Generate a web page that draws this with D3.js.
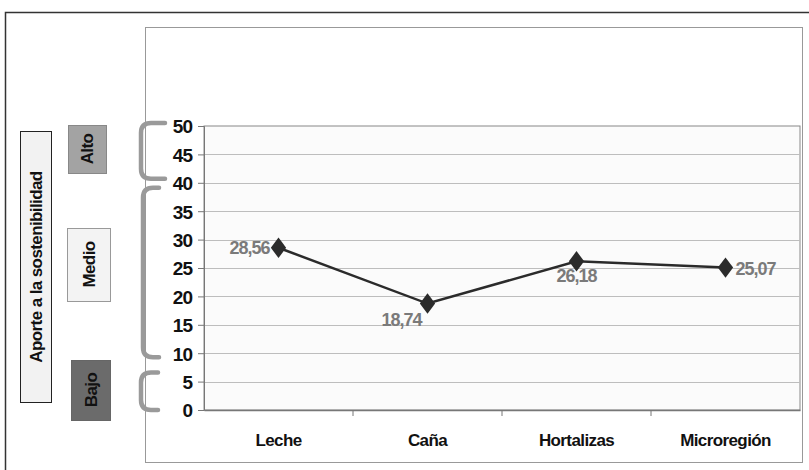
<!DOCTYPE html>
<html>
<head>
<meta charset="utf-8">
<script src="https://cdn.jsdelivr.net/npm/d3@7"></script>
<style>
body { margin: 0; background: #fff; }
text { font-family: "Liberation Sans Narrow", "Arial Narrow", "Liberation Sans", sans-serif; font-weight: bold; letter-spacing: -0.6px; }
</style>
</head>
<body>
<script>
// data
var categories = ["Leche", "Caña", "Hortalizas", "Microregión"];
var values = [28.56, 18.74, 26.18, 25.07];
var valueLabels = ["28,56", "18,74", "26,18", "25,07"];
var yTicks = [0, 5, 10, 15, 20, 25, 30, 35, 40, 45, 50];
var levels = ["Alto", "Medio", "Bajo"];
var levelRanges = [[40, 50], [10, 40], [0, 5]];

var width = 809, height = 470;
var svg = d3.select("body").append("svg")
    .attr("width", width)
    .attr("height", height);

// outer frame
svg.append("path")
    .attr("d", "M5.5,470 V12.5 H809")
    .attr("fill", "none")
    .attr("stroke", "#333")
    .attr("stroke-width", 1.5);

// chart frame
svg.append("rect")
    .attr("x", 145.5).attr("y", 27.5)
    .attr("width", 657).attr("height", 435)
    .attr("fill", "#fff")
    .attr("stroke", "#999");

var pLeft = 204, pRight = 800, pTop = 126, pBottom = 410;

var x = d3.scaleBand().domain(categories).range([pLeft, pRight]);
var y = d3.scaleLinear().domain([0, 50]).range([pBottom, pTop]);

// plot area
svg.append("rect")
    .attr("x", pLeft).attr("y", pTop)
    .attr("width", pRight - pLeft).attr("height", pBottom - pTop)
    .attr("fill", "#fbfbfb")
    .attr("stroke", "#888");

svg.append("g").selectAll("line")
    .data(yTicks.filter(function(d){ return d > 0 && d < 50; }))
    .enter().append("line")
    .attr("x1", pLeft).attr("x2", pRight)
    .attr("y1", function(d){ return Math.round(y(d)) + 0.5; })
    .attr("y2", function(d){ return Math.round(y(d)) + 0.5; })
    .attr("stroke", "#bdbdbd")
    .attr("stroke-width", 1.2);

var yAxis = d3.axisLeft(y).tickValues(yTicks).tickSize(6).tickPadding(6);
var yg = svg.append("g")
    .attr("transform", "translate(" + pLeft + ",0)")
    .call(yAxis);
yg.select(".domain").attr("stroke", "#777");
yg.selectAll(".tick line").attr("stroke", "#777");
yg.selectAll(".tick text")
    .attr("fill", "#111")
    .style("font-size", "19px")
    .style("letter-spacing", "-1px")
    .attr("dy", "0.36em");

var xAxis = d3.axisBottom(x).tickSize(0).tickPadding(24);
var xg = svg.append("g")
    .attr("transform", "translate(0," + pBottom + ")")
    .call(xAxis);
xg.select(".domain").attr("stroke", "#777").attr("stroke-width", 1.5);
xg.selectAll(".tick text")
    .attr("fill", "#111")
    .style("font-size", "17px");
// category boundary ticks
xg.selectAll(".bound")
    .data(categories.slice(1))
    .enter().append("line")
    .attr("x1", function(d){ return x(d); })
    .attr("x2", function(d){ return x(d); })
    .attr("y1", 0).attr("y2", 6)
    .attr("stroke", "#777");

// line
var line = d3.line()
    .x(function(d, i){ return x(categories[i]) + x.bandwidth() / 2; })
    .y(function(d){ return y(d); });

svg.append("path")
    .datum(values)
    .attr("d", line)
    .attr("fill", "none")
    .attr("stroke", "#2b2b2b")
    .attr("stroke-width", 2.5);

svg.append("g").selectAll("path")
    .data(values)
    .enter().append("path")
    .attr("d", d3.symbol().type(d3.symbolDiamond).size(120))
    .attr("transform", function(d, i){
        return "translate(" + (x(categories[i]) + x.bandwidth() / 2) + "," + y(d) + ") scale(1.3,1)";
    })
    .attr("fill", "#2b2b2b");

// value labels
var labelOffsets = [[-9, 6, "end"], [-6, 22, "end"], [0, 21, "middle"], [10, 7, "start"]];
svg.append("g").selectAll("text")
    .data(values)
    .enter().append("text")
    .attr("x", function(d, i){ return x(categories[i]) + x.bandwidth() / 2 + labelOffsets[i][0]; })
    .attr("y", function(d, i){ return y(d) + labelOffsets[i][1]; })
    .attr("text-anchor", function(d, i){ return labelOffsets[i][2]; })
    .attr("fill", "#7a7a7a")
    .style("font-size", "18px")
    .style("letter-spacing", "-1px")
    .text(function(d, i){ return valueLabels[i]; });

// brackets (insets in px from the range ends)
var bracketStyle = [
    {x: 141, hook: 24, top: -3, bot: 4},
    {x: 143, hook: 16, top: 5, bot: -4},
    {x: 141, hook: 17, top: -9, bot: 0}
];
svg.append("g").selectAll("path")
    .data(levelRanges)
    .enter().append("path")
    .attr("d", function(d, i){
        var b = bracketStyle[i], r = 10;
        var y0 = y(d[1]) + b.top, y1 = y(d[0]) - b.bot;
        return "M" + (b.x + b.hook) + "," + y0 +
            " H" + (b.x + r) +
            " Q" + b.x + "," + y0 + " " + b.x + "," + (y0 + r) +
            " V" + (y1 - r) +
            " Q" + b.x + "," + y1 + " " + (b.x + r) + "," + y1 +
            " H" + (b.x + b.hook);
    })
    .attr("fill", "none")
    .attr("stroke", "#9a9a9a")
    .attr("stroke-width", 4.5)
    .attr("stroke-linecap", "round");

// level boxes
var levelBoxes = [
    {x: 68, y: 125, w: 38, h: 48, fill: "#a3a3a3", stroke: "#888"},
    {x: 67, y: 228, w: 43, h: 73, fill: "#f3f3f3", stroke: "#999"},
    {x: 71, y: 360, w: 39, h: 60, fill: "#6b6b6b", stroke: "#666"}
];
var lg = svg.append("g").selectAll("g")
    .data(levels)
    .enter().append("g");
lg.append("rect")
    .attr("x", function(d, i){ return levelBoxes[i].x + 0.5; })
    .attr("y", function(d, i){ return levelBoxes[i].y + 0.5; })
    .attr("width", function(d, i){ return levelBoxes[i].w; })
    .attr("height", function(d, i){ return levelBoxes[i].h; })
    .attr("fill", function(d, i){ return levelBoxes[i].fill; })
    .attr("stroke", function(d, i){ return levelBoxes[i].stroke; });
lg.append("text")
    .attr("transform", function(d, i){
        var b = levelBoxes[i];
        return "translate(" + (b.x + b.w / 2 + 6) + "," + (b.y + b.h / 2) + ") rotate(-90)";
    })
    .attr("text-anchor", "middle")
    .attr("fill", "#111")
    .style("font-size", "17px")
    .text(function(d){ return d; });

// axis title box
svg.append("rect")
    .attr("x", 20.5).attr("y", 131.5)
    .attr("width", 31).attr("height", 271)
    .attr("fill", "#f2f2f2")
    .attr("stroke", "#222");
svg.append("text")
    .attr("transform", "translate(" + 42 + "," + 267 + ") rotate(-90)")
    .attr("text-anchor", "middle")
    .attr("fill", "#111")
    .style("font-size", "17px")
    .text("Aporte a la sostenibilidad");
</script>
</body>
</html>
